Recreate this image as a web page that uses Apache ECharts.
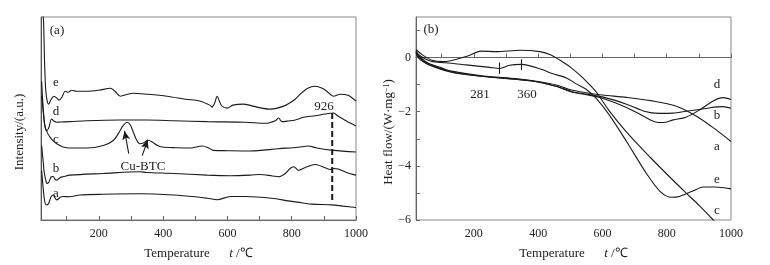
<!DOCTYPE html>
<html>
<head>
<meta charset="utf-8">
<script src="https://cdn.jsdelivr.net/npm/echarts@6/dist/echarts.min.js"></script>
<style>
html, body { margin: 0; padding: 0; background: #fff; }
#main { width: 770px; height: 265px; }
</style>
</head>
<body>
<div id="main"></div>
<script>
const chart = echarts.init(document.getElementById('main'))

// (a) XRD-like stacked traces, intensity in arbitrary units
const xrdA = [[22,50],[26,35],[30,22],[34,16],[38,15.3],[44,17],[52,24],[58,25.3],[64,22],[69,20.3],[80,23],[89,23.7],[110,23.5],[141,25.3],[214,26],[329,26.5],[433,25.3],[500,23.5],[537,22],[568,20.5],[609,23.7],[656,23.7],[738,22],[790,19.3],[830,17.5],[863,16],[925,15.3],[960,14],[1000,12.7]]
const xrdB = [[22,75],[26,62],[30,48],[35,40],[38,37],[44,38],[52,43.7],[58,44],[64,41],[69,40.3],[80,43],[89,43.7],[110,45.3],[214,47],[329,48.7],[348,48],[433,47],[537,45.3],[609,44.7],[671,45.3],[700,46],[740,44.5],[759,43.7],[780,47],[795,52],[806,53.7],[821,50.3],[842,53],[873,56],[904,52.7],[920,51],[930,52],[945,51.5],[970,48],[1000,45.3]]
const xrdC = [[22,140],[25,122],[28,108],[32,95],[40,88],[48,83.7],[58,80],[69,77],[89,73.7],[110,72.7],[162,72.7],[214,75.3],[245,80.3],[262,88],[275,95],[288,98.7],[298,96],[308,88],[317,81],[327,77],[340,78],[352,80.5],[365,79],[381,75.5],[397,73.7],[440,73],[485,72.7],[521,74.7],[540,73],[557,70.3],[600,70],[671,69.7],[759,72],[820,73.5],[852,74.7],[878,72.7],[930,70.3],[1000,68.7]]
const xrdD = [[22,125],[26,112],[30,100],[34,92],[38,90],[44,93],[53,102],[60,100],[69,98.7],[80,99],[110,99.3],[162,100.3],[265,101],[348,101],[433,100.3],[537,99.3],[656,98.7],[718,97.7],[749,100.3],[759,103],[770,99.3],[790,100],[811,101],[837,103.7],[873,105.3],[904,107],[930,108],[945,104.7],[970,100],[1000,95]]
const xrdE = [[24,215],[28,200],[31,160],[35,130],[40,119],[44,117],[50,121],[60,125],[70,123],[76,121],[85,124],[95,130],[105,129],[115,131],[130,130],[160,130],[200,131],[236,133],[250,130],[267,125],[290,127],[307,128],[350,127],[412,125],[470,122],[516,120],[545,116],[552,114],[560,118],[568,125],[575,120],[583,115],[599,113],[617,116],[650,117],[692,114],[733,112],[775,115],[811,122],[826,127],[850,133],[873,135],[895,133],[909,130],[930,125],[951,127],[975,126],[1000,120]]
const peak926 = [[926,108],[926,19]]
const cuBtcArrows = [[[293,67],[280,90]],[[335,65],[352,81]]]

// (b) heat flow, W/mg
const dscA = [[20,0.25],[30,0.05],[57,-0.2],[100,-0.38],[130,-0.5],[230,-0.68],[335,-0.78],[400,-0.88],[460,-1.02],[504,-1.2],[550,-1.3],[600,-1.38],[675,-1.47],[755,-1.6],[830,-1.8],[890,-2.15],[940,-2.55],[970,-2.82],[1000,-3.1]]
const dscB = [[20,0.2],[30,0.0],[57,-0.22],[130,-0.52],[230,-0.7],[335,-0.8],[400,-0.9],[460,-1.07],[504,-1.25],[550,-1.35],[600,-1.45],[675,-1.72],[730,-1.98],[775,-2.06],[820,-2.05],[860,-1.98],[900,-1.92],[935,-1.85],[975,-1.81],[1000,-1.87]]
const dscC = [[20,0.3],[40,0.1],[70,-0.1],[104,-0.15],[176,0.04],[223,0.24],[270,0.22],[343,0.27],[405,0.22],[440,0.1],[467,-0.09],[500,-0.35],[530,-0.65],[560,-1.0],[582,-1.29],[620,-1.95],[675,-2.75],[750,-3.7],[800,-4.3],[860,-5.0],[900,-5.45],[945,-6.0],[960,-6.2]]
const dscD = [[20,0.15],[30,-0.05],[57,-0.25],[130,-0.54],[230,-0.7],[335,-0.81],[400,-0.9],[460,-1.08],[504,-1.27],[550,-1.37],[600,-1.5],[675,-1.84],[730,-2.18],[765,-2.38],[790,-2.4],[820,-2.3],[860,-2.2],[900,-1.95],[945,-1.6],[975,-1.48],[1000,-1.55]]
const dscE = [[20,0.2],[35,0.05],[56,-0.09],[72,-0.15],[130,-0.21],[176,-0.27],[249,-0.36],[280,-0.4],[311,-0.28],[348,-0.25],[415,-0.45],[441,-0.58],[488,-0.75],[520,-0.98],[550,-1.18],[580,-1.5],[620,-2.1],[675,-3.1],[738,-4.3],[780,-4.95],[815,-5.16],[840,-5.13],[883,-4.92],[914,-4.78],[950,-4.78],[1000,-4.85]]
const dscMarks = [[[280,-0.18],[280,-0.6]],[[348,-0.06],[348,-0.46]]]

const xLabels = [200, 400, 600, 800, 1000]
const xTicks = [100, 200, 300, 400, 500, 600, 700, 800, 900, 1000]
const yLabelsB = [-6, -4, -2, 0]
const yTicksB = [-6, -5, -4, -3, -2, -1, 0, 1]

const serif = 'Liberation Serif'
const ink = '#1a1a1a'

const curve = (data, idx) => ({
  type: 'line',
  xAxisIndex: idx,
  yAxisIndex: idx,
  data: data,
  showSymbol: false,
  smooth: 0.3,
  silent: true,
  lineStyle: { color: ink, width: 1.1 }
})

const arrowLines = (pairs, idx, arrow) => ({
  type: 'line',
  xAxisIndex: idx,
  yAxisIndex: idx,
  data: [],
  silent: true,
  markLine: {
    silent: true,
    symbol: arrow ? ['none', 'arrow'] : ['none', 'none'],
    symbolSize: [6, 9],
    label: { show: false },
    lineStyle: { color: ink, width: 1.1, type: 'solid' },
    data: pairs.map(p => [{ coord: p[0] }, { coord: p[1] }])
  }
})

const xAxisBase = (idx) => ({
  type: 'value',
  gridIndex: idx,
  min: 20,
  max: 1000,
  name: '{n|Temperature}{n|      }{i|t}{n| /℃}',
  nameLocation: 'middle',
  nameGap: 27,
  nameTextStyle: {
    rich: {
      n: { fontFamily: serif, fontSize: 13, color: '#222' },
      i: { fontFamily: serif, fontSize: 13, fontStyle: 'italic', color: '#222' }
    }
  },
  axisLine: { lineStyle: { color: '#666', width: 1 } },
  axisTick: { inside: true, length: 4, customValues: xTicks, lineStyle: { color: '#666' } },
  axisLabel: {
    customValues: xLabels, fontFamily: serif, fontSize: 12, color: '#222', margin: 8,
    formatter: v => String(Math.round(v))
  },
  splitLine: { show: false }
})

const text = (x, y, s, extra) => ({
  type: 'text',
  x: x,
  y: y,
  silent: true,
  style: Object.assign({
    text: s,
    fontFamily: serif,
    fontSize: 13,
    fill: '#222',
    align: 'center',
    verticalAlign: 'middle'
  }, extra || {})
})

let option = {
  backgroundColor: '#fff',
  animation: false,
  grid: [
    { left: 41, top: 17, width: 315, height: 205, show: true, borderColor: '#888', borderWidth: 1 },
    { left: 416, top: 17, width: 315, height: 207, show: true, borderColor: '#888', borderWidth: 1 }
  ],
  xAxis: [xAxisBase(0), xAxisBase(1)],
  yAxis: [{
    type: 'value',
    gridIndex: 0,
    min: 0,
    max: 205,
    axisLine: { show: true, lineStyle: { color: '#555' } },
    axisTick: { show: false },
    axisLabel: { show: false },
    splitLine: { show: false }
  }, {
    type: 'value',
    gridIndex: 1,
    min: -6,
    max: 1.5,
    axisLine: { show: true, lineStyle: { color: '#666' } },
    axisTick: { inside: true, length: 4, customValues: yTicksB, lineStyle: { color: '#666' } },
    axisLabel: {
      customValues: yLabelsB,
      fontFamily: serif, fontSize: 12, color: '#222', margin: 5,
      formatter: v => String(Math.round(Number(v))).replace('-', '\u2212')
    },
    splitLine: { show: false }
  }],
  series: [
    curve(xrdA, 0), curve(xrdB, 0), curve(xrdC, 0), curve(xrdD, 0), curve(xrdE, 0),
    {
      type: 'line', xAxisIndex: 0, yAxisIndex: 0, data: peak926, showSymbol: false, silent: true,
      lineStyle: { color: ink, width: 2, type: [6, 3] }
    },
    arrowLines(cuBtcArrows, 0, true),
    curve(dscA, 1), curve(dscB, 1), curve(dscC, 1), curve(dscD, 1), curve(dscE, 1),
    arrowLines(dscMarks, 1, false)
  ],
  graphic: [
    text(57, 31, '(a)'),
    text(56, 83, 'e'), text(56, 112, 'd'), text(56, 140, 'c'), text(56, 169, 'b'), text(56, 194, 'a'),
    text(143, 167, 'Cu-BTC'),
    text(324, 107, '926'),
    text(20, 132, 'Intensity/(a.u.)', { fontSize: 13 }),
    text(431, 30, '(b)'),
    text(717, 85, 'd'), text(717, 116, 'b'), text(717, 147, 'a'), text(717, 180, 'e'), text(717, 211, 'c'),
    text(480, 95, '281'), text(527, 95, '360'),
    text(389, 132, 'Heat flow/(W\u00b7mg{s|\u22121})', {
      rich: { s: { fontFamily: serif, fontSize: 8, verticalAlign: 'top', padding: [0, 0, 5, 0] } }
    })
  ]
}

// rotate the two vertical axis titles
option.graphic[8].rotation = Math.PI / 2
option.graphic[option.graphic.length - 1].rotation = Math.PI / 2

chart.setOption(option)
</script>
</body>
</html>
